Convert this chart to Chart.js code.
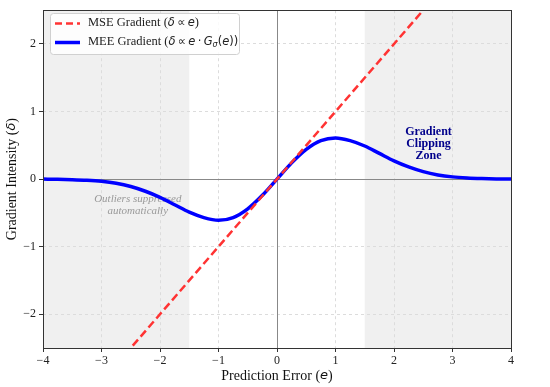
<!DOCTYPE html>
<html>
<head>
<meta charset="utf-8">
<script src="https://cdn.jsdelivr.net/npm/chart.js@4.4.1/dist/chart.umd.min.js"></script>
<style>
  html, body { margin: 0; padding: 0; background: #fff; }
  #wrap { width: 550px; height: 387px; position: relative; }
</style>
</head>
<body>
<div id="wrap"><canvas id="chart" width="550" height="387"></canvas></div>
<script>
// --- data ---
const errX = [-4, -3.75, -3.5, -3.25, -3, -2.75, -2.5, -2.25, -2, -1.75, -1.5, -1.25, -1, -0.75, -0.5, -0.25,
              0, 0.25, 0.5, 0.75, 1, 1.25, 1.5, 1.75, 2, 2.25, 2.5, 2.75, 3, 3.25, 3.5, 3.75, 4];
const meeGrad = [0, -0.003, -0.008, -0.017, -0.033, -0.062, -0.11, -0.18, -0.27, -0.38, -0.49, -0.57, -0.61, -0.57, -0.44, -0.24,
                 0, 0.24, 0.44, 0.57, 0.61, 0.57, 0.49, 0.38, 0.27, 0.18, 0.11, 0.062, 0.033, 0.017, 0.008, 0.003, 0];
const mseX = [-2.6, 2.6];
const mseGrad = [-2.6, 2.6];
const xTicks = [-4, -3, -2, -1, 0, 1, 2, 3, 4];
const yTicks = [-2, -1, 0, 1, 2];
const shadeLeft = [-4, -1.5];
const shadeRight = [1.5, 4];

const SERIF = '"Liberation Serif", "Times New Roman", serif';
const MATH = '"DejaVu Sans", sans-serif';
const TS = '\u2009'; // thin space for math spacing

// draw a run of mixed-font text pieces starting at x
function drawRuns(ctx, runs, x, y, size) {
    ctx.textBaseline = 'middle';
    ctx.textAlign = 'left';
    runs.forEach(r => {
        ctx.font = (r.style || '') + ' ' + (r.size || size) + 'px ' + (r.font || SERIF);
        ctx.fillText(r.t, x, y + (r.dy || 0));
        x += ctx.measureText(r.t).width;
    });
    return x;
}
function runsWidth(ctx, runs, size) {
    let w = 0;
    runs.forEach(r => {
        ctx.font = (r.style || '') + ' ' + (r.size || size) + 'px ' + (r.font || SERIF);
        w += ctx.measureText(r.t).width;
    });
    return w;
}

const decor = {
    id: 'decor',
    beforeDraw(chart) {
        const { ctx, chartArea: a, scales: { x } } = chart;
        ctx.save();
        ctx.fillStyle = '#f0f0f0';
        [shadeLeft, shadeRight].forEach(s => {
            const x0 = x.getPixelForValue(s[0]), x1 = x.getPixelForValue(s[1]);
            ctx.fillRect(x0, a.top, x1 - x0, a.bottom - a.top);
        });
        ctx.restore();
    },
    beforeDatasetsDraw(chart) {
        const { ctx, chartArea: a, scales: { x, y } } = chart;
        ctx.save();
        ctx.strokeStyle = '#888888';
        ctx.lineWidth = 1;
        const x0 = Math.round(x.getPixelForValue(0)) + 0.5;
        const y0 = Math.round(y.getPixelForValue(0)) + 0.5;
        ctx.beginPath();
        ctx.moveTo(a.left, y0); ctx.lineTo(a.right, y0);
        ctx.moveTo(x0, a.top); ctx.lineTo(x0, a.bottom);
        ctx.stroke();

        // annotation under the curves
        ctx.textAlign = 'center';
        ctx.textBaseline = 'middle';
        ctx.fillStyle = '#999999';
        ctx.font = 'italic 11px ' + SERIF;
        const ox = x.getPixelForValue(-2.38), oy = y.getPixelForValue(-0.29);
        ctx.fillText('Outliers suppressed', ox, oy);
        ctx.fillText('automatically', ox, oy + 12);
        ctx.restore();
    },
    afterDatasetsDraw(chart) {
        const { ctx, chartArea: a, scales: { x, y } } = chart;
        ctx.save();
        ctx.textAlign = 'center';
        ctx.textBaseline = 'middle';
        ctx.fillStyle = '#00008b';
        ctx.font = 'bold 12px ' + SERIF;
        const gx = x.getPixelForValue(2.59), gy = y.getPixelForValue(0.7);
        ctx.fillText('Gradient', gx, gy);
        ctx.fillText('Clipping', gx, gy + 12);
        ctx.fillText('Zone', gx, gy + 24);

        // frame
        ctx.strokeStyle = '#333';
        ctx.lineWidth = 1;
        ctx.strokeRect(Math.round(a.left) + 0.5, Math.round(a.top) + 0.5,
                       Math.round(a.right - a.left), Math.round(a.bottom - a.top));

        // legend
        const lx = 50, ly = 13, lw = 189, lh = 41;
        ctx.fillStyle = 'rgba(255,255,255,0.85)';
        ctx.strokeStyle = '#d0d0d0';
        ctx.beginPath();
        ctx.roundRect(lx + 0.5, ly + 0.5, lw, lh, 3);
        ctx.fill(); ctx.stroke();

        ctx.lineWidth = 2.5;
        ctx.strokeStyle = '#ff3333';
        ctx.setLineDash([7, 4]);
        ctx.beginPath(); ctx.moveTo(55, 23.5); ctx.lineTo(80, 23.5); ctx.stroke();
        ctx.setLineDash([]);
        ctx.lineWidth = 3.5;
        ctx.strokeStyle = '#0000ff';
        ctx.beginPath(); ctx.moveTo(55, 42.5); ctx.lineTo(80, 42.5); ctx.stroke();

        ctx.fillStyle = '#222';
        drawRuns(ctx, [
            { t: 'MSE Gradient (' },
            { t: 'δ', style: 'italic', font: MATH, size: 11.5 },
            { t: TS + '∝' + TS, font: MATH, size: 11.5 },
            { t: 'e', style: 'italic', font: MATH, size: 11.5 },
            { t: ')' }
        ], 88, 23, 12.5);
        drawRuns(ctx, [
            { t: 'MEE Gradient (' },
            { t: 'δ', style: 'italic', font: MATH, size: 11.5 },
            { t: TS + '∝' + TS, font: MATH, size: 11.5 },
            { t: 'e', style: 'italic', font: MATH, size: 11.5 },
            { t: TS + '·' + TS, font: MATH, size: 11.5 },
            { t: 'G', style: 'italic', font: MATH, size: 11.5 },
            { t: 'σ', style: 'italic', font: MATH, size: 8, dy: 3 },
            { t: '(', font: MATH, size: 11.5 },
            { t: 'e', style: 'italic', font: MATH, size: 11.5 },
            { t: '))', font: MATH, size: 11.5 }
        ], 88, 42, 12.5);

        // axis titles
        ctx.fillStyle = '#111';
        const xt = [
            { t: 'Prediction Error (' },
            { t: 'e', style: 'italic', font: MATH, size: 13 },
            { t: ')' }
        ];
        const xw = runsWidth(ctx, xt, 14);
        drawRuns(ctx, xt, (a.left + a.right) / 2 - xw / 2, 376, 14);

        const yt = [
            { t: 'Gradient Intensity (' },
            { t: 'δ', style: 'italic', font: MATH, size: 13 },
            { t: ')' }
        ];
        const yw = runsWidth(ctx, yt, 14);
        ctx.translate(12, (a.top + a.bottom) / 2);
        ctx.rotate(-Math.PI / 2);
        drawRuns(ctx, yt, -yw / 2, 0, 14);
        ctx.restore();
    }
};

const minus = v => (v < 0 ? '\u2212' + Math.abs(v) : String(v));

new Chart(document.getElementById('chart'), {
    type: 'line',
    data: {
        datasets: [
            {
                label: 'MSE Gradient',
                data: mseX.map((v, i) => ({ x: v, y: mseGrad[i] })),
                borderColor: '#ff3333',
                borderWidth: 2.5,
                borderDash: [8, 4],
                pointRadius: 0,
                tension: 0
            },
            {
                label: 'MEE Gradient',
                data: errX.map((v, i) => ({ x: v, y: meeGrad[i] })),
                borderColor: '#0000ff',
                borderWidth: 3.5,
                pointRadius: 0,
                cubicInterpolationMode: 'monotone'
            }
        ]
    },
    options: {
        responsive: false,
        animation: false,
        layout: { padding: { top: 7, right: 39, left: 0, bottom: 0 } },
        plugins: { legend: { display: false }, tooltip: { enabled: false } },
        scales: {
            x: {
                type: 'linear',
                min: -4, max: 4,
                afterBuildTicks: s => { s.ticks = xTicks.map(v => ({ value: v })); },
                afterFit: s => { s.height = 39; },
                ticks: { callback: minus, color: '#222', font: { family: SERIF, size: 12 }, padding: 2, maxRotation: 0 },
                grid: { color: '#dcdcdc', tickColor: '#333', tickLength: 4, tickBorderDash: [] },
                border: { display: false, dash: [3, 3] }
            },
            y: {
                type: 'linear',
                min: -2.5, max: 2.5,
                afterBuildTicks: s => { s.ticks = yTicks.map(v => ({ value: v })); },
                afterFit: s => { s.width = 43; },
                ticks: { callback: minus, color: '#222', font: { family: SERIF, size: 12 }, padding: 3 },
                grid: { color: '#dcdcdc', tickColor: '#333', tickLength: 4, tickBorderDash: [] },
                border: { display: false, dash: [3, 3] }
            }
        }
    },
    plugins: [decor]
});
</script>
</body>
</html>
